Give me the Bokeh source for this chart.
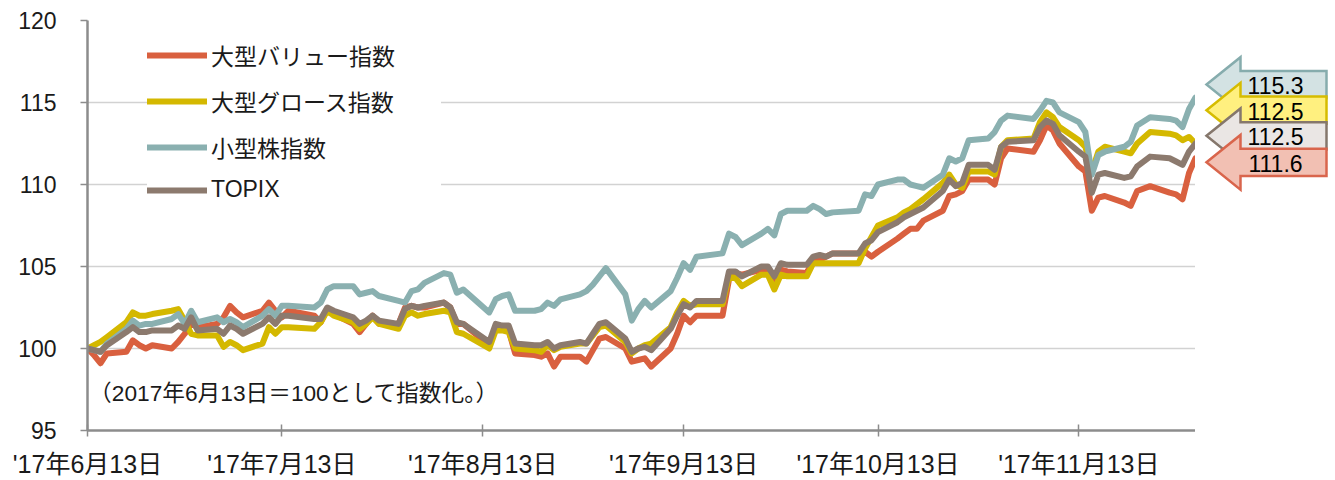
import pandas as pd
from bokeh.plotting import figure
from bokeh.layouts import row
from bokeh.models import Range1d, FixedTicker, Label
from bokeh.embed import file_html
from bokeh.resources import INLINE
from bokeh.core.properties import value

# ---------------- data ----------------
HOLIDAYS = ["2017-07-17", "2017-08-11", "2017-09-18", "2017-10-09", "2017-11-03", "2017-11-23"]
dates = [d for d in pd.bdate_range("2017-06-13", "2017-12-01") if d.strftime("%Y-%m-%d") not in HOLIDAYS]

series_names = ["大型バリュー指数", "大型グロース指数", "小型株指数", "TOPIX"]

large_value = [
    100.0, 99.6, 99.1, 99.7, 99.8, 100.5, 100.2, 100.0, 100.2, 100.0, 100.4, 100.9, 101.5, 101.3,
    101.5, 101.9, 102.6, 102.2, 101.9, 102.3, 102.8, 102.3, 101.9, 102.3, 102.0, 101.6, 102.4, 102.1, 101.5, 101.0, 101.5, 102.0, 101.5, 101.5,
    102.5, 102.6, 102.5, 102.5, 102.8, 102.5, 101.5, 101.5, 100.2, 101.3, 101.2, 101.1, 99.7, 99.6, 99.5, 99.7, 98.9, 99.5, 99.5, 99.2, 99.9, 100.6,
    100.7, 100.0, 99.2, 99.3, 99.4, 98.9, 100.0, 100.9, 102.0, 101.6, 102.0, 102.0, 104.2, 104.6, 104.5, 104.8, 104.8, 104.1, 104.8, 104.7,
    104.6, 105.4, 105.4, 105.6, 105.8, 105.8, 105.9, 105.6, 105.9, 106.7, 107.0, 107.3, 107.3, 107.8, 108.4, 109.3, 109.4, 109.6, 110.3, 110.3, 110.0,
    111.6, 112.2, 112.0, 112.7, 113.6, 113.3, 112.5, 111.1, 110.8, 108.4, 109.2, 109.3, 108.9, 108.7, 109.6, 109.9, 109.5, 109.4, 109.1, 110.7,
    111.6,
]
large_growth = [
    100.0, 100.2, 100.4, 100.7, 101.6, 102.2, 102.0, 102.0, 102.1, 102.3, 102.4, 101.7, 100.9, 100.8,
    100.8, 100.1, 100.4, 100.2, 99.9, 100.3, 101.3, 100.9, 101.3, 101.3, 101.2, 101.6, 102.3, 102.0, 101.6, 101.2, 101.5, 101.9, 101.5, 101.2,
    102.0, 102.2, 102.0, 102.1, 102.3, 102.2, 101.0, 100.9, 100.0, 101.1, 101.1, 101.0, 100.0, 99.9, 99.8, 100.2, 99.9, 100.1, 100.3, 100.3, 100.8, 101.3,
    101.4, 100.4, 99.7, 100.0, 100.2, 100.3, 101.3, 102.2, 102.9, 102.6, 102.7, 102.7, 104.4, 104.3, 103.8, 104.5, 104.5, 103.6, 104.5, 104.4,
    104.4, 105.2, 105.2, 105.2, 105.2, 105.2, 106.1, 106.8, 107.5, 108.0, 108.3, 108.5, 108.8, 109.1, 110.1, 110.6, 110.0, 109.8, 110.8, 110.8, 110.6,
    112.3, 112.7, 112.8, 113.8, 114.4, 114.1, 113.5, 112.7, 112.3, 110.8, 112.0, 112.3, 112.0, 111.9, 112.5, 113.2, 113.1, 113.0, 112.7, 112.9,
    112.5,
]
small_cap = [
    100.0, 99.9, 99.8, 100.3, 101.2, 101.7, 101.4, 101.5, 101.5, 101.8, 102.1, 101.5, 102.3, 101.6,
    101.9, 101.6, 101.8, 101.6, 101.3, 102.0, 102.4, 102.0, 102.6, 102.6, 102.5, 102.8, 103.6, 103.8, 103.8, 103.3, 103.4, 103.5, 103.2, 102.9,
    102.8, 103.5, 103.6, 104.0, 104.6, 104.5, 103.4, 103.6, 102.2, 103.0, 103.2, 103.3, 102.3, 102.3, 102.4, 102.8, 102.6, 103.0, 103.3, 103.5, 103.9, 104.4,
    104.9, 103.3, 101.7, 102.4, 102.9, 102.5, 103.5, 104.3, 105.2, 104.8, 105.6, 105.8, 107.0, 106.8, 106.3, 107.0, 107.3, 106.9, 108.2, 108.4,
    108.4, 108.7, 108.5, 108.2, 108.3, 108.4, 109.4, 109.3, 110.0, 110.3, 110.3, 110.0, 109.9, 109.8, 110.6, 111.6, 111.4, 111.6, 112.7, 112.8, 113.2,
    113.9, 114.2, 114.0, 114.5, 115.1, 115.0, 114.4, 113.8, 113.2, 110.6, 111.8, 112.0, 112.3, 112.6, 113.6, 114.1, 114.0, 113.9, 113.5, 114.6,
    115.3,
]
topix = [
    100.0, 99.9, 99.8, 100.2, 101.0, 101.3, 101.0, 101.0, 101.1, 101.1, 101.4, 101.2, 101.9, 101.1,
    101.2, 100.9, 101.4, 101.2, 100.9, 101.5, 101.9, 101.5, 102.0, 102.0, 101.8, 101.8, 102.5, 102.3, 101.9, 101.5, 101.7, 102.0, 101.7, 101.5,
    102.4, 102.6, 102.5, 102.6, 102.8, 102.5, 101.6, 101.5, 100.4, 101.5, 101.4, 101.4, 100.3, 100.2, 100.2, 100.4, 100.0, 100.2, 100.4, 100.3, 100.9, 101.5,
    101.6, 100.6, 99.8, 100.0, 100.1, 99.9, 101.2, 102.0, 102.7, 102.5, 102.9, 102.9, 104.7, 104.7, 104.4, 105.0, 105.0, 104.4, 105.2, 105.1,
    105.1, 105.6, 105.7, 105.6, 105.8, 105.8, 106.4, 106.6, 107.1, 107.7, 108.0, 108.2, 108.4, 108.6, 109.6, 110.3, 109.9, 110.1, 111.2, 111.2, 110.9,
    112.3, 112.6, 112.7, 113.5, 113.9, 113.7, 113.0, 112.0, 111.7, 109.5, 110.6, 110.7, 110.4, 110.5, 111.1, 111.7, 111.6, 111.4, 111.2, 112.0,
    112.5,
]

tick_dates = ["2017-06-13", "2017-07-13", "2017-08-13", "2017-09-13", "2017-10-13", "2017-11-13"]
tick_labels = ["'17年6月13日", "'17年7月13日", "'17年8月13日", "'17年9月13日", "'17年10月13日", "'17年11月13日"]
y_ticks = [95, 100, 105, 110, 115, 120]
note_text = "（2017年6月13日＝100として指数化。）"

for s in (large_value, large_growth, small_cap, topix):
    assert len(s) == len(dates), (len(s), len(dates))

# ---------------- styles ----------------
FONT = "Liberation Sans, Noto Sans CJK JP"
TXT = "#1a1a1a"
line_colors = ["#D9603F", "#D4B800", "#8AB0B0", "#8C7A6E"]
AXIS = "#8C8C8C"

p = figure(width=1195, height=480, x_axis_type="datetime",
           x_range=Range1d(pd.Timestamp("2017-06-13"), pd.Timestamp("2017-12-01")),
           y_range=Range1d(95, 120),
           output_backend="svg", toolbar_location=None,
           min_border_left=87, min_border_right=0, min_border_top=20, min_border_bottom=50)
p.outline_line_color = None
p.background_fill_color = "white"

all_series = [large_value, large_growth, small_cap, topix]
for vals, col, name in zip(all_series, line_colors, series_names):
    p.line(dates, vals, line_color=col, line_width=6, line_join="round", line_cap="round",
           legend_label=name)

# axes
tick_ms = [int(pd.Timestamp(d).value // 10**6) for d in tick_dates]
p.xaxis.ticker = FixedTicker(ticks=tick_ms)
p.xaxis.major_label_overrides = {ms: lab for ms, lab in zip(tick_ms, tick_labels)}
p.yaxis.ticker = FixedTicker(ticks=y_ticks)
for ax in (p.xaxis, p.yaxis):
    ax.axis_line_color = AXIS
    ax.axis_line_width = 2.5
    ax.major_tick_line_color = AXIS
    ax.major_tick_line_width = 1.5
    ax.minor_tick_line_color = None
    ax.major_label_text_font = FONT
    ax.major_label_text_color = TXT
p.yaxis.major_label_text_font_size = "23px"
p.xaxis.major_label_text_font_size = "25px"
p.xaxis.major_tick_in = 6
p.xaxis.major_tick_out = 6
p.xaxis.major_label_standoff = 13
p.yaxis.major_tick_in = 0
p.yaxis.major_tick_out = 7
p.yaxis.major_label_standoff = 24

p.xgrid.grid_line_color = None
p.ygrid.grid_line_color = "#D2D2D2"
p.ygrid.grid_line_width = 1.5

# legend
lg = p.legend[0]
lg.location = (60, 227)
lg.label_text_font = FONT
lg.label_text_font_size = "23px"
lg.label_text_color = TXT
lg.glyph_width = 60
lg.glyph_height = 20
lg.label_height = 20
lg.label_width = 230
lg.label_standoff = 4
lg.spacing = 12
lg.padding = 27
lg.border_line_color = None
lg.background_fill_color = "white"
lg.background_fill_alpha = 1.0

# note
p.add_layout(Label(x=pd.Timestamp("2017-06-13 06:00").value / 1e6, y=97.3, text=note_text,
                   text_font=FONT, text_font_size="22.7px", text_color=TXT, text_baseline="middle"))

# ---------------- end-value callouts ----------------
q = figure(width=140, height=480, x_range=Range1d(0, 140), y_range=Range1d(480, 0),
           output_backend="svg", toolbar_location=None, min_border=0)
q.axis.visible = False
q.grid.visible = False
q.outline_line_color = None

callout_series = [small_cap, large_growth, topix, large_value]
callout_fill = ["#D3E2E3", "#FFF07F", "#EAE6E4", "#F2C0B3"]
callout_line = ["#86ACAD", "#D6BC00", "#85776C", "#D9654C"]
centers = [75, 105, 135, 166]
tip_x, base_x, right_x, body_h, head_h = 11, 45, 131, 16, 32
for vals, fc, lc, c in zip(callout_series, callout_fill, callout_line, centers):
    xs = [tip_x, base_x, base_x, right_x, right_x, base_x, base_x]
    ys = [c, c - head_h, c - body_h, c - body_h, c + body_h, c + body_h, c + head_h]
    q.patch(xs, ys, fill_color=fc, line_color=lc, line_width=2.5, line_join="miter")
    q.text(x=[80], y=[c + 1], text=[f"{vals[-1]:.1f}"], text_font=value(FONT),
           text_font_size="23px", text_color="black", text_align="center", text_baseline="middle")

layout = row(p, q, spacing=0)
open("out.html", "w").write(file_html(layout, INLINE))
